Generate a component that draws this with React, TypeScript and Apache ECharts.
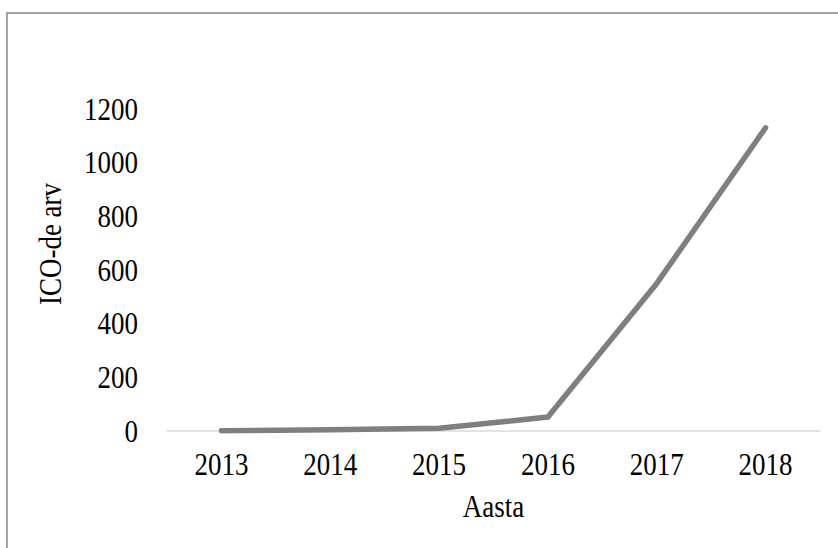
import React, { useEffect, useRef } from "react";
import * as echarts from "echarts";

const years = ["2013", "2014", "2015", "2016", "2017", "2018"];
const icoCounts = [1, 5, 10, 52, 550, 1130];
const yTickValues = [0, 200, 400, 600, 800, 1000, 1200];
const yTicks = { min: 0, max: 1200, interval: 200 };
const xTitle = "Aasta";
const yTitle = "ICO-de arv";

const FONT = "'Liberation Serif', 'Times New Roman', serif";
const FS = 31;
const SX = 0.87;

export default function App() {
  const ref = useRef<HTMLDivElement>(null);
  useEffect(() => {
    if (!ref.current) return;
    const chart = echarts.init(ref.current, undefined, { renderer: "svg" });
    chart.setOption({
      animation: false,
      backgroundColor: "#ffffff",
      textStyle: { fontFamily: FONT },
      grid: { left: 167, right: 18, top: 109, bottom: 117 },
      xAxis: {
        type: "category",
        data: years,
        boundaryGap: true,
        axisLine: { show: true, lineStyle: { color: "#d9d9d9", width: 1.5 } },
        axisTick: { show: false },
        axisLabel: { show: false },
        splitLine: { show: false },
      },
      yAxis: {
        type: "value",
        min: yTicks.min,
        max: yTicks.max,
        interval: yTicks.interval,
        axisLine: { show: false },
        axisTick: { show: false },
        splitLine: { show: false },
        axisLabel: { show: false },
      },
      series: [
        {
          type: "line",
          data: icoCounts,
          showSymbol: false,
          symbol: "none",
          lineStyle: { color: "#7f7f7f", width: 5.5, cap: "round", join: "round" },
        },
      ],
    });

    const texts: any[] = [];
    const base = chart.convertToPixel({ gridIndex: 0 }, [0, 0]) as number[];
    const gridLeft = 167;
    const gridRight = 838 - 18;
    years.forEach((y, i) => {
      const p = chart.convertToPixel({ gridIndex: 0 }, [i, 0]) as number[];
      texts.push({
        type: "text",
        x: p[0],
        y: base[1] + 33,
        scaleX: SX,
        style: { text: y, fill: "#000", fontSize: FS, fontFamily: FONT, align: "center", verticalAlign: "middle" },
      });
    });
    yTickValues.forEach((v) => {
      const p = chart.convertToPixel({ gridIndex: 0 }, [0, v]) as number[];
      texts.push({
        type: "text",
        x: gridLeft - 29,
        y: p[1],
        scaleX: SX,
        style: { text: String(v), fill: "#000", fontSize: FS, fontFamily: FONT, align: "right", verticalAlign: "middle" },
      });
    });
    texts.push({
      type: "text",
      x: (gridLeft + gridRight) / 2,
      y: base[1] + 75,
      scaleX: SX,
      style: { text: xTitle, fill: "#000", fontSize: FS, fontFamily: FONT, align: "center", verticalAlign: "middle" },
    });
    texts.push({
      type: "text",
      x: 50,
      y: 244,
      rotation: Math.PI / 2,
      scaleX: SX,
      style: { text: yTitle, fill: "#000", fontSize: FS, fontFamily: FONT, align: "center", verticalAlign: "middle" },
    });

    chart.setOption({
      graphic: [
        {
          type: "rect",
          shape: { x: 7, y: 13, width: 900, height: 600 },
          style: { fill: "none", stroke: "#888888", lineWidth: 1.5 },
          silent: true,
          z: -1,
        },
        ...texts,
      ],
    });
    return () => chart.dispose();
  }, []);
  return (
    <div
      ref={ref}
      style={{ position: "fixed", left: 0, top: 0, width: 838, height: 548, background: "#fff" }}
    />
  );
}
